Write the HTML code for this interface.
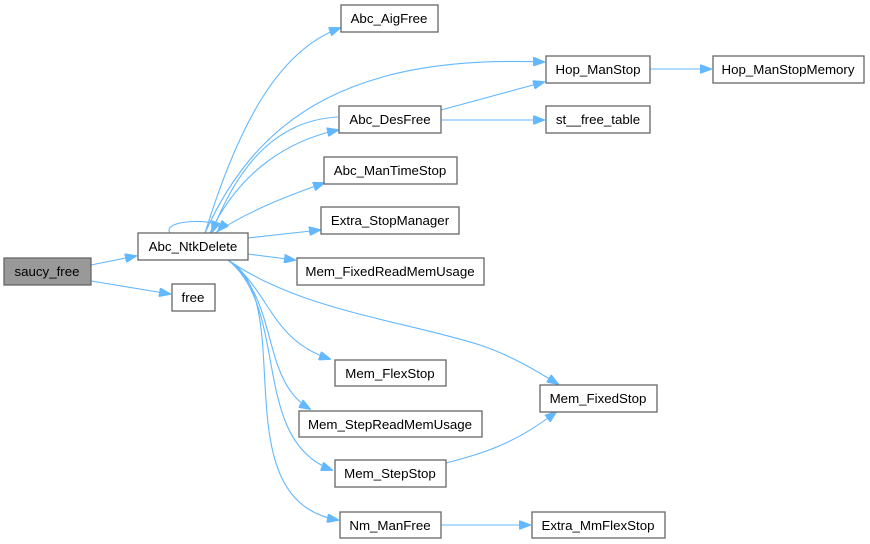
<!DOCTYPE html>
<html><head><meta charset="utf-8"><style>
html,body{margin:0;padding:0;background:#fff;}
svg{display:block}
text{font-family:"Liberation Sans",Arial,sans-serif;font-size:13.3px;fill:#000;text-anchor:middle;}
.n{fill:#fff;stroke:#666;stroke-width:1.3}
.e{fill:none;stroke:#63b8ff;stroke-width:1.1}
.a{fill:#63b8ff;stroke:#63b8ff}
</style></head><body>
<svg width="870" height="544" viewBox="0 0 870 544" xmlns="http://www.w3.org/2000/svg">
<defs><marker id="m" markerWidth="12" markerHeight="9" refX="11" refY="4.5" orient="auto" markerUnits="userSpaceOnUse"><path d="M0,0 L12,4.5 L0,9 z" class="a"/></marker></defs>
<g class="e" marker-end="url(#m)">
<path d="M91,265 L136,256"/>
<path d="M91,281 L170,294"/>
<path d="M170,233 C160,218 230,218 218,231"/>
<path d="M205,233 C240,120 280,50 340,28"/>
<path d="M205,233 C260,110 360,55 544,62"/>
<path d="M210,233 C240,170 290,140 338,130"/>
<path d="M338,117 C280,120 240,160 212,232"/>
<path d="M215,233 C250,210 290,195 324,183"/>
<path d="M248,238 L320,230"/>
<path d="M248,254 L295,260"/>
<path d="M228,260 C300,310 400,320 480,345 C510,355 535,370 558,384"/>
<path d="M228,260 C270,290 270,340 330,359"/>
<path d="M228,260 C280,300 260,380 310,409"/>
<path d="M228,260 C290,310 250,440 332,470"/>
<path d="M228,260 C300,300 220,500 338,520"/>
<path d="M441,110 L544,82"/>
<path d="M441,120 L544,120"/>
<path d="M650,69 L711,69"/>
<path d="M446,463 C490,452 520,440 556,412"/>
<path d="M441,525 L530,525"/>
</g>
<rect x="4" y="258" width="87" height="27" fill="#999" stroke="#666" stroke-width="1.3"/><text x="47" y="276">saucy_free</text>
<rect class="n" x="138" y="233" width="110" height="27"/><text x="193" y="251">Abc_NtkDelete</text>
<rect class="n" x="172" y="284" width="43" height="27"/><text x="193" y="302">free</text>
<rect class="n" x="341" y="5" width="97" height="27"/><text x="389" y="23">Abc_AigFree</text>
<rect class="n" x="546" y="56" width="104" height="27"/><text x="598" y="74">Hop_ManStop</text>
<rect class="n" x="713" y="56" width="151" height="27"/><text x="788" y="74">Hop_ManStopMemory</text>
<rect class="n" x="339" y="106" width="102" height="27"/><text x="390" y="124">Abc_DesFree</text>
<rect class="n" x="546" y="106" width="104" height="27"/><text x="598" y="124">st__free_table</text>
<rect class="n" x="324" y="157" width="133" height="27"/><text x="390" y="175">Abc_ManTimeStop</text>
<rect class="n" x="321" y="207" width="138" height="27"/><text x="390" y="225">Extra_StopManager</text>
<rect class="n" x="297" y="258" width="187" height="27"/><text x="390" y="276">Mem_FixedReadMemUsage</text>
<rect class="n" x="335" y="360" width="111" height="26"/><text x="390" y="378">Mem_FlexStop</text>
<rect class="n" x="540" y="385" width="117" height="27"/><text x="598" y="403">Mem_FixedStop</text>
<rect class="n" x="299" y="411" width="183" height="26"/><text x="390" y="429">Mem_StepReadMemUsage</text>
<rect class="n" x="335" y="460" width="111" height="27"/><text x="390" y="478">Mem_StepStop</text>
<rect class="n" x="340" y="512" width="101" height="26"/><text x="390" y="530">Nm_ManFree</text>
<rect class="n" x="532" y="512" width="133" height="26"/><text x="598" y="530">Extra_MmFlexStop</text>
</svg>
</body></html>
